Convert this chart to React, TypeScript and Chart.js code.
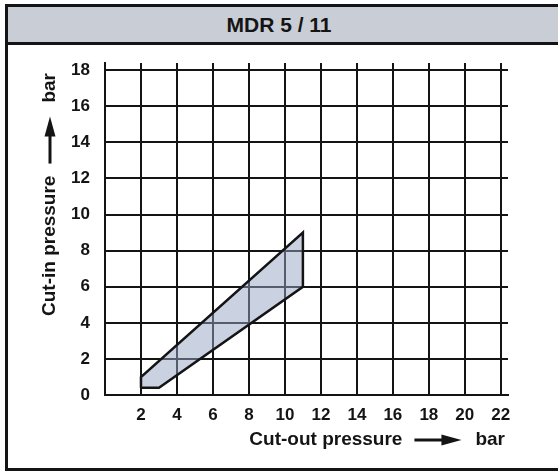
import React, { useEffect, useRef } from "react";
import { Chart, registerables } from "chart.js";

Chart.register(...registerables);

const chartTitle = "MDR 5 / 11";
const xTickValues = [2, 4, 6, 8, 10, 12, 14, 16, 18, 20, 22];
const yTickValues = [0, 2, 4, 6, 8, 10, 12, 14, 16, 18];
const xAxisTitle = "Cut-out pressure";
const yAxisTitle = "Cut-in pressure";
const unitLabel = "bar";
// closed outline of the operating range (cut-out, cut-in)
const rangeCutOut = [2, 2, 11, 11, 3, 2];
const rangeCutIn = [0.4, 1, 9, 6, 0.4, 0.4];

const FONT = '"Liberation Sans", Arial, Helvetica, sans-serif';
const INK = "#141414";

function drawTitleWithArrow(ctx: CanvasRenderingContext2D, label: string, unit: string) {
  // draws in local coords: ends at x = 0, centered on y = 0, text grows to negative x
  ctx.font = `bold 19px ${FONT}`;
  ctx.fillStyle = INK;
  ctx.strokeStyle = INK;
  ctx.textBaseline = "middle";
  const unitW = ctx.measureText(unit).width;
  const unitX = -unitW;
  ctx.textAlign = "left";
  ctx.fillText(unit, unitX, 0);
  const arrowEnd = unitX - 14;
  const arrowLen = 47;
  const headLen = 20;
  const arrowStart = arrowEnd - arrowLen;
  ctx.lineWidth = 3;
  ctx.beginPath();
  ctx.moveTo(arrowStart, 0);
  ctx.lineTo(arrowEnd - headLen + 2, 0);
  ctx.stroke();
  ctx.beginPath();
  ctx.moveTo(arrowEnd, 0);
  ctx.lineTo(arrowEnd - headLen, -5.5);
  ctx.lineTo(arrowEnd - headLen, 5.5);
  ctx.closePath();
  ctx.fill();
  ctx.textAlign = "right";
  ctx.fillText(label, arrowStart - 12, 0);
}

const axisTitlePlugin = {
  id: "axisTitles",
  afterDraw(chart: any) {
    const ctx: CanvasRenderingContext2D = chart.ctx;
    const area = chart.chartArea;
    ctx.save();
    ctx.translate(area.right - 3, area.bottom + 45);
    drawTitleWithArrow(ctx, xAxisTitle, unitLabel);
    ctx.restore();
    ctx.save();
    ctx.translate(50, area.top + 10);
    ctx.rotate(-Math.PI / 2);
    drawTitleWithArrow(ctx, yAxisTitle, unitLabel);
    ctx.restore();
  },
};

export default function App() {
  const canvasRef = useRef<HTMLCanvasElement | null>(null);

  useEffect(() => {
    const canvas = canvasRef.current;
    if (!canvas) return;
    const chart = new Chart(canvas, {
      type: "scatter",
      data: {
        datasets: [
          {
            data: rangeCutOut.map((x, i) => ({ x, y: rangeCutIn[i] })),
            showLine: true,
            fill: "shape",
            backgroundColor: "rgba(150,166,198,0.5)",
            borderColor: INK,
            borderWidth: 2.5,
            borderJoinStyle: "miter",
            pointRadius: 0,
            tension: 0,
          } as any,
        ],
      },
      options: {
        animation: false,
        responsive: false,
        devicePixelRatio: 1,
        layout: { padding: { left: 0, top: 63, right: 50, bottom: 0 } },
        plugins: {
          legend: { display: false },
          tooltip: { enabled: false },
          title: { display: false },
        },
        scales: {
          x: {
            type: "linear",
            min: 0,
            max: 22.4,
            afterBuildTicks: (s: any) => {
              s.ticks = xTickValues.map((v) => ({ value: v }));
            },
            afterFit: (s: any) => {
              s.height = 77;
            },
            grid: { color: INK, lineWidth: 2, drawTicks: false },
            border: { color: INK, width: 2 },
            ticks: {
              padding: 10,
              color: INK,
              font: { family: FONT, size: 17, weight: "bold" },
              maxRotation: 0,
              autoSkip: false,
            },
          },
          y: {
            type: "linear",
            min: 0,
            max: 18.4,
            afterBuildTicks: (s: any) => {
              s.ticks = yTickValues.map((v) => ({ value: v }));
            },
            afterFit: (s: any) => {
              s.width = 105;
            },
            grid: { color: INK, lineWidth: 2, drawTicks: false },
            border: { color: INK, width: 2 },
            ticks: {
              padding: 15,
              color: INK,
              font: { family: FONT, size: 17, weight: "bold" },
              autoSkip: false,
            },
          },
        },
      } as any,
      plugins: [axisTitlePlugin],
    });
    return () => chart.destroy();
  }, []);

  return (
    <div
      style={{
        position: "fixed",
        left: 0,
        top: 0,
        width: 558,
        height: 472,
        background: "#fff",
        overflow: "hidden",
        fontFamily: FONT,
      }}
    >
      <div
        style={{
          position: "absolute",
          left: 5,
          top: 4,
          width: 570,
          height: 467,
          border: `3px solid ${INK}`,
          boxSizing: "border-box",
        }}
      />
      <div
        style={{
          position: "absolute",
          left: 8,
          top: 7,
          width: 560,
          height: 35,
          background: "#c9ced6",
          borderBottom: `3px solid ${INK}`,
        }}
      />
      <div
        style={{
          position: "absolute",
          left: 0,
          top: 7,
          width: 558,
          height: 35,
          lineHeight: "35px",
          textAlign: "center",
          fontWeight: "bold",
          fontSize: 21,
          color: INK,
        }}
      >
        {chartTitle}
      </div>
      <canvas
        ref={canvasRef}
        width={558}
        height={472}
        style={{ position: "absolute", left: 0, top: 0, width: 558, height: 472 }}
      />
    </div>
  );
}
